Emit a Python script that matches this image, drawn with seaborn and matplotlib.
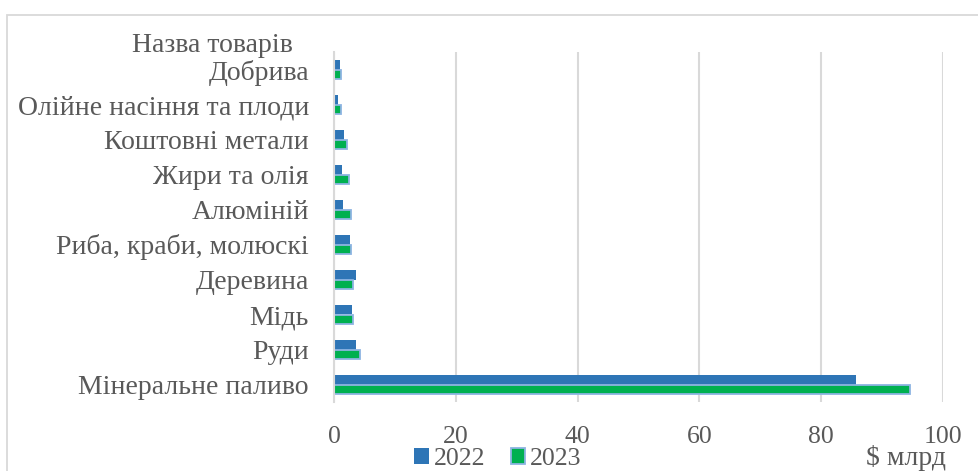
import matplotlib
matplotlib.use("Agg")
import matplotlib.pyplot as plt
import seaborn as sns
import pandas as pd
from matplotlib.patches import Rectangle, Patch

# Export of goods, $ bn
categories = ["Добрива", "Олійне насіння та плоди", "Коштовні метали", "Жири та олія",
              "Алюміній", "Риба, краби, молюскі", "Деревина", "Мідь", "Руди",
              "Мінеральне паливо"]
values_2022 = [1.0, 0.6, 1.6, 1.3, 1.4, 2.7, 3.6, 2.9, 3.6, 85.7]
values_2023 = [1.2, 1.2, 2.1, 2.5, 2.8, 2.8, 3.1, 3.2, 4.3, 94.6]
years = ["2022", "2023"]
x_ticks = [0, 20, 40, 60, 80, 100]

df = pd.DataFrame({
    "category": categories * 2,
    "year": [years[0]] * len(categories) + [years[1]] * len(categories),
    "value": values_2022 + values_2023,
})

sns.set_theme(style="white")
plt.rcParams["font.family"] = ["Liberation Serif", "DejaVu Serif"]

text_color = "#595959"
grid_color = "#D9D9D9"
blue = "#2E75B6"
green = "#00B050"
green_edge = "#8DB4E2"
fs_text = 20
fs_num = 18.5

fig = plt.figure(figsize=(9.79, 4.71), dpi=100)
ax = fig.add_axes([334 / 979, 1 - 402 / 471, (943 - 334) / 979, (402 - 52) / 471])

sns.barplot(data=df, y="category", x="value", hue="year", order=categories,
            hue_order=years, palette=[blue, green], orient="h", width=0.52,
            gap=0, dodge=True, ax=ax, legend=False, saturation=1)

for bar in ax.containers[0]:
    bar.set_edgecolor("none")
for bar in ax.containers[1]:
    bar.set_edgecolor(green_edge)
    bar.set_linewidth(1.3)

ax.set_xlim(0, 100)
ax.set_xticks(x_ticks)
ax.set_xticklabels([str(t) for t in x_ticks])
ax.xaxis.grid(True, color=grid_color, linewidth=1.5)
ax.set_axisbelow(True)
ax.tick_params(axis="both", length=0, colors=text_color)
ax.tick_params(axis="x", pad=17, labelsize=fs_num)
ax.tick_params(axis="y", pad=18, labelsize=fs_text)
for lbl in ax.get_xticklabels() + ax.get_yticklabels():
    lbl.set_color(text_color)
ax.set_xlabel("")
ax.set_ylabel("")
for side in ["top", "right", "bottom"]:
    ax.spines[side].set_visible(False)
ax.spines["left"].set_color(grid_color)
ax.spines["left"].set_linewidth(1.5)

# axis titles
fig.text(212 / 979, 1 - 46 / 471, "Назва товарів", ha="center", va="center",
         fontsize=fs_text, color=text_color)
fig.text(946 / 979, 1 - 458 / 471, "$ млрд", ha="right", va="center",
         fontsize=fs_text, color=text_color)

# legend
handles = [Patch(facecolor=blue, edgecolor="none", label=years[0]),
           Patch(facecolor=green, edgecolor=green_edge, linewidth=1.3, label=years[1])]
fig.legend(handles=handles, loc="center", bbox_to_anchor=(498 / 979, 1 - 459 / 471),
           ncol=2, frameon=False, fontsize=fs_num, handlelength=0.55, handleheight=0.55,
           handletextpad=0.2, columnspacing=1.0, labelcolor=text_color,
           borderpad=0, borderaxespad=0)

# chart area border
fig.patches.append(Rectangle((7 / 979, -0.1), 1.2, 1 - 15 / 471 + 0.1,
                             transform=fig.transFigure, fill=False,
                             edgecolor=grid_color, linewidth=1.3))

fig.savefig("out.png", dpi=100, facecolor="white")
